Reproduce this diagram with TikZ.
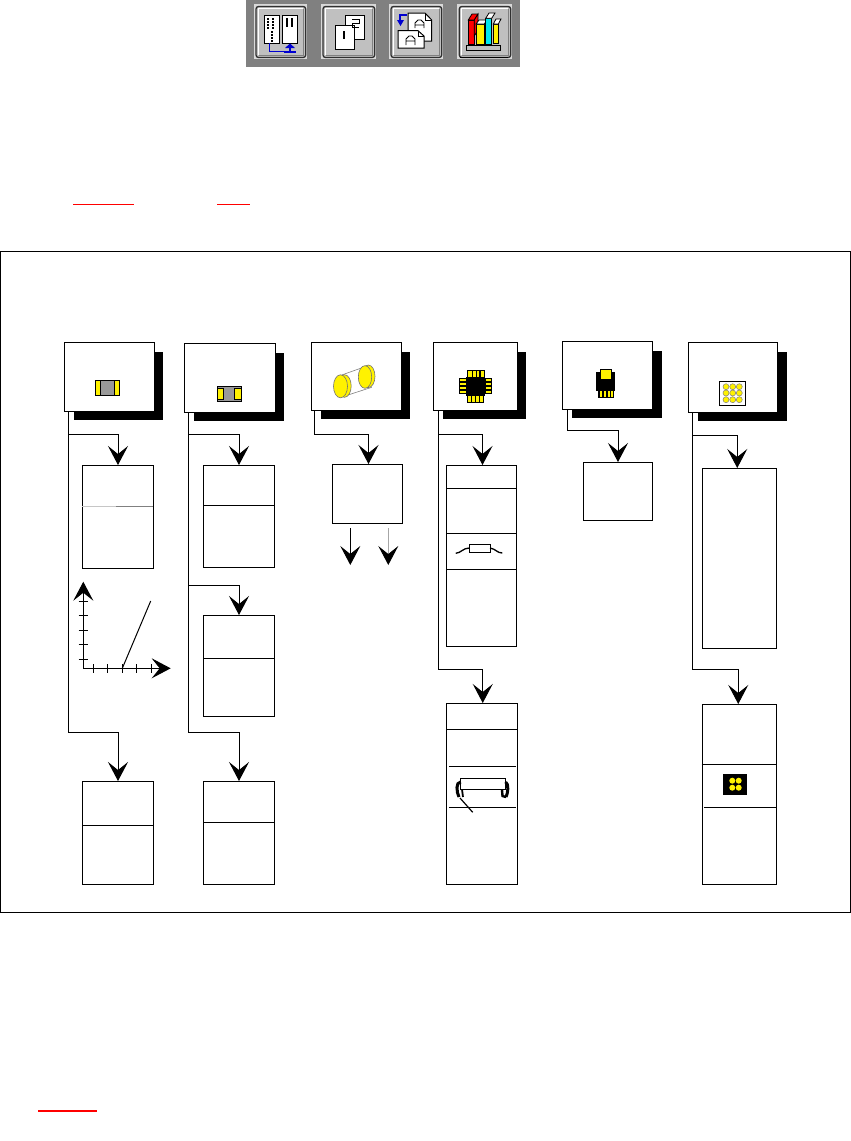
\documentclass[tikz,border=0pt]{standalone}
\usetikzlibrary{arrows.meta,shadows}
\definecolor{barGray}{HTML}{808080}
\definecolor{faceGray}{HTML}{C0C0C0}
\definecolor{darkEdge}{HTML}{303030}
\definecolor{iconBlue}{HTML}{0000D0}
\definecolor{iconCyan}{HTML}{00E8F0}
\definecolor{bodyGray}{HTML}{999999}
\tikzset{
  card/.style={draw,thick,fill=white,anchor=north west,inner sep=0pt,line width=1pt,
    general shadow={fill=black,shadow xshift=9pt,shadow yshift=-9pt}},
  txtbox/.style={draw,fill=white,anchor=north west,inner sep=0pt,line width=1pt},
  flow/.style={line width=1pt,-{Stealth[length=19pt,width=20pt,inset=8pt,black]}},
  divider/.style={line width=1pt},
  redline/.style={red,line width=1.2pt},
  pin/.style={fill=yellow,draw=black,line width=0.8pt},
  page/.style={fill=white,draw=black,line width=1pt},
}
\newcommand{\toolbtn}[4]{%
  \fill[faceGray!60!white] (#1,#2) rectangle (#3,#4);
  \draw[fill=faceGray,draw=darkEdge,line width=1.3pt,rounded corners=2.5pt] (#1+2,#2+2.5) rectangle (#3-1,#4-1.5);
  \draw[white,line width=1pt] (#1+4,#4-4) -- (#1+4,#2+4.5) -- (#3-3.5,#2+4.5);
  \draw[gray,line width=1.5pt] (#1+4.5,#4-3.5) -- (#3-3,#4-3.5) -- (#3-3,#2+5);
}
\begin{document}
\begin{tikzpicture}[x=1pt,y=-1pt]
\useasboundingbox (0,0) rectangle (851,1141);
% toolbar
\fill[barGray] (246,0) rectangle (520,67);
\toolbtn{254}{4}{306.7}{59}
\toolbtn{321}{4}{375.7}{59}
\toolbtn{389}{4}{442.7}{59}
\toolbtn{457.3}{4}{511.7}{59}
% button 1
\draw[page] (264,15) rectangle (279.3,43.3);
\draw[page] (282.7,15) rectangle (297.3,43.3);
\draw[line width=1.6pt,dash pattern=on 2pt off 1pt] (268,18) -- (268,29);
\draw[line width=1.6pt,dash pattern=on 2pt off 1pt] (273,18) -- (273,29);
\draw[line width=1.2pt,dash pattern=on 1.5pt off 1.5pt] (272,31) -- (272,42);
\draw[line width=1.4pt] (287,18) -- (287,27);
\draw[line width=1.4pt] (292,18) -- (292,27);
\draw[iconBlue,line width=1.2pt] (269.3,43.3) -- (269.3,51.7) -- (290,51.7) -- (290,47);
\fill[iconBlue] (285,48) -- (295,48) -- (290,43.5) -- cycle;
\fill[iconBlue] (284,50.5) rectangle (296,52.5);
% button 2
\draw[page] (345,15) rectangle (364,39);
\draw[page] (335.7,25) rectangle (354.3,49);
\draw[line width=1.2pt] (344,31) -- (344,39);
\draw[line width=1pt] (352,19) -- (359,19) -- (359,23) -- (352,23) -- (352,27) -- (359,27);
% button 3
\draw[page] (408,13) -- (425,13) -- (431.7,20) -- (431.7,41) -- (408,41) -- cycle;
\draw[line width=0.8pt] (425,13) -- (425,20) -- (431.7,20);
\draw[line width=0.9pt] (415,28) -- (415,23) -- (418,20) -- (421,20) -- (424,23) -- (424,28) (415,25) -- (424,25);
\draw[page] (398,30.7) -- (418,30.7) -- (424,36) -- (424,48) -- (398,48) -- cycle;
\draw[line width=0.8pt] (418,30.7) -- (418,36) -- (424,36);
\draw[line width=0.9pt] (406,45) -- (406,39) -- (409,36) -- (412,36) -- (415,39) -- (415,45) (406,41) -- (415,41);
\draw[iconBlue,line width=1.8pt] (407,15) -- (400,15) -- (400,20);
\fill[iconBlue] (397,20) -- (404,20) -- (400.5,26) -- cycle;
% button 4
\draw[fill=red,line width=0.8pt] (468.3,20) rectangle (474.3,44);
\draw[fill=red,line width=0.8pt] (468.3,20) -- (472,14) -- (478,14) -- (474.3,20) -- cycle;
\draw[fill=red,line width=0.8pt] (474.3,20) -- (478,14) -- (478,30) -- (474.3,36) -- cycle;
\draw[fill=yellow,line width=0.8pt] (476,24) rectangle (484.3,44);
\draw[fill=white,line width=0.8pt] (476,24) -- (479,20) -- (487,20) -- (484.3,24) -- cycle;
\draw[fill=iconCyan,line width=0.8pt] (485.7,18.3) rectangle (491.7,44);
\draw[fill=white,line width=0.8pt] (485.7,18.3) -- (489,13) -- (495,13) -- (491.7,18.3) -- cycle;
\draw[fill=yellow,line width=0.8pt] (493.3,24) rectangle (498.3,43);
\draw[fill=white,line width=0.8pt] (493.3,24) -- (496,19) -- (501,19) -- (498.3,24) -- cycle;
\draw[fill=faceGray,line width=0.8pt] (466,45) rectangle (500,50);
\fill[black] (460,56.5) rectangle (508,58);
% red underlines
\draw[redline] (73,204.3) -- (134,204.3);
\draw[redline] (217,204.3) -- (250,204.3);
\draw[redline] (38,1111) -- (97,1111);
% frame
\draw[line width=1pt] (0.5,251.5) rectangle (850,912);
% top cards
\node[card,minimum width=89.5pt,minimum height=68.5pt] (card1) at (64,342) {};
\node[card,minimum width=90.5pt,minimum height=68.5pt] (card2) at (184,343) {};
\node[card,minimum width=89.5pt,minimum height=67.5pt] (card3) at (311,342) {};
\node[card,minimum width=83.5pt,minimum height=67.5pt] (card4) at (433,342) {};
\node[card,minimum width=90pt,minimum height=67.5pt] (card5) at (562,341) {};
\node[card,minimum width=89pt,minimum height=69.5pt] (card6) at (688,342) {};
% text boxes
\node[txtbox,minimum width=71pt,minimum height=103pt] (txt1) at (82,465) {};
\node[txtbox,minimum width=71pt,minimum height=102pt] (txt2) at (203,465) {};
\node[txtbox,minimum width=71pt,minimum height=101pt] (txt3) at (203,615) {};
\node[txtbox,minimum width=71pt,minimum height=103pt] (txt4) at (203,781) {};
\node[txtbox,minimum width=71pt,minimum height=103pt] (txt5) at (82,781) {};
\node[txtbox,minimum width=70pt,minimum height=59pt] (txt6) at (332,464) {};
\node[txtbox,minimum width=70pt,minimum height=181pt] (txt7) at (446,465) {};
\node[txtbox,minimum width=70.5pt,minimum height=181pt] (txt8) at (446,703) {};
\node[txtbox,minimum width=69pt,minimum height=58pt] (txt9) at (583,462) {};
\node[txtbox,minimum width=74.5pt,minimum height=180pt] (txt10) at (701.5,468) {};
\node[txtbox,minimum width=74.5pt,minimum height=180pt] (txt11) at (701.5,704) {};
% dividers
\draw[divider,gray!45] (82,506) -- (116,506);
\draw[divider,gray] (116,506) -- (153,506);
\draw[divider] (203,505) -- (274,505);
\draw[divider] (203,658) -- (274,658);
\draw[divider] (203,822) -- (274,822);
\draw[divider] (82,825) -- (153,825);
\draw[divider] (446,488) -- (516,488);
\draw[divider] (446,533) -- (516,533);
\draw[divider] (446,569) -- (516,569);
\draw[divider] (446,729) -- (517,729);
\draw[divider] (449,766) -- (516,766);
\draw[divider] (449,807) -- (516,807);
\draw[divider] (701.5,764) -- (776,764);
\draw[divider] (704,807) -- (776,807);
% connectors
\draw[flow] ([xshift=4pt]card1.south west) |- ([yshift=31pt]txt1.north) -- (txt1.north);
\draw[flow] ([xshift=4pt]card1.south west) |- ([yshift=49pt]txt5.north) -- (txt5.north);
\draw[flow] ([xshift=4pt]card2.south west) |- ([yshift=31pt]txt2.north) -- (txt2.north);
\draw[flow] ([xshift=4pt]card2.south west) |- ([yshift=30pt]txt3.north) -- (txt3.north);
\draw[flow] ([xshift=4pt]card2.south west) |- ([yshift=49pt]txt4.north) -- (txt4.north);
\draw[flow] ([xshift=3pt]card3.south west) |- ([xshift=1pt,yshift=30pt]txt6.north) -- ([xshift=1pt]txt6.north);
\draw[flow] ([xshift=5pt]card4.south west) |- ([xshift=1pt,yshift=31pt]txt7.north) -- ([xshift=1pt]txt7.north);
\draw[flow] ([xshift=5pt]card4.south west) |- ([xshift=1pt,yshift=34pt]txt8.north) -- ([xshift=1pt]txt8.north);
\draw[flow] ([xshift=5pt]card5.south west) |- ([yshift=32pt]txt9.north) -- (txt9.north);
\draw[flow] ([xshift=4.5pt]card6.south west) |- ([xshift=-2pt,yshift=33pt]txt10.north) -- ([xshift=-2pt]txt10.north);
\draw[flow] ([xshift=4.5pt]card6.south west) |- ([xshift=-1pt,yshift=35pt]txt11.north) -- ([xshift=-1pt]txt11.north);
% free arrows under box 6
\coordinate (tipA) at (350.3,565);
\coordinate (tipB) at (388.3,565);
\draw[flow] ([xshift=18.3pt,yshift=-4pt]txt6.south west) -- (tipA);
\draw[flow,draw=gray!70] ([xshift=56.3pt,yshift=-4pt]txt6.south west) -- (tipB);
% chart
\coordinate (origin) at (83.3,668.3);
\coordinate (yEnd) at (83.3,581.7);
\coordinate (xEnd) at (170.7,668.3);
\draw[flow] (origin) -- (yEnd);
\draw[flow] (origin) -- (xEnd);
\foreach \ty in {601,615,630.3,644,659.3}
  \draw[line width=1pt] (78.5,\ty) -- (88,\ty);
\foreach \tx in {93.3,107.3,122.3,136.3,151.3}
  \draw[line width=1pt] (\tx,664) -- (\tx,673);
\draw[line width=1pt] (122.3,668.3) -- (150.7,601);
% icon card 1
\draw[fill=bodyGray,line width=1pt] (95.3,380.3) rectangle (119.7,395.7);
\draw[fill=yellow,line width=1pt] (95.3,380.3) rectangle (100.7,395.7);
\draw[fill=yellow,line width=1pt] (114.3,380.3) rectangle (119.7,395.7);
% icon card 2
\draw[fill=bodyGray,line width=1pt] (217.3,386) rectangle (241.7,401.7);
\draw[fill=yellow,line width=0.8pt] (217.8,388.3) rectangle (223.7,399.3);
\draw[fill=yellow,line width=0.8pt] (234.3,388.3) rectangle (241.2,399.3);
% icon card 3
\draw[gray,line width=0.6pt] (341.7,375) -- (365,366.7);
\draw[gray,line width=0.6pt] (348,395) -- (371.7,387.3);
\draw[fill=yellow,draw=gray!90!black,line width=0.6pt] (368.3,376.3) ellipse [x radius=6.7pt,y radius=11.3pt];
\draw[fill=yellow,draw=gray!90!black,line width=0.6pt] (365,377) ellipse [x radius=6.7pt,y radius=11.3pt];
\draw[fill=yellow,draw=gray!90!black,line width=0.6pt] (344.5,386) ellipse [x radius=6.7pt,y radius=11.3pt];
\draw[fill=yellow,draw=gray!90!black,line width=0.6pt] (340.5,386.3) ellipse [x radius=7pt,y radius=11.5pt];
% icon card 4
\draw[pin] (467.6,370.5) rectangle (472,377.5);
\draw[pin] (472,370.5) rectangle (476,377.5);
\draw[pin] (476,370.5) rectangle (479,377.5);
\draw[pin] (480.5,370.5) rectangle (484,377.5);
\draw[pin] (467.6,395.5) rectangle (471.5,402.5);
\draw[pin] (471.5,395.5) rectangle (475.5,402.5);
\draw[pin] (475.5,395.5) rectangle (479.7,402.5);
\draw[pin] (479.7,395.5) rectangle (483.7,402.5);
\foreach \py in {378.5,382.5,386.5,390.5} {
  \draw[pin] (459.3,\py) rectangle (466,\py+3);
  \draw[pin] (485,\py) rectangle (491.7,\py+3);
}
\fill[black] (466,377.3) rectangle (485,395.7);
% icon card 5
\fill[black] (596,372) rectangle (615,390.7);
\draw[pin] (600.7,369.7) rectangle (611.5,379.3);
\fill[black] (598.3,390) rectangle (614,397.7);
\foreach \px in {599.7,603.7,607.7,611.2}
  \fill[yellow] (\px,391) rectangle (\px+1.8,396.9);
% icon card 6
\draw[fill=white,line width=1pt] (719.3,381.3) rectangle (745.7,405.7);
\foreach \dx in {726,732.7,739.3}
  \foreach \dy in {386.7,393,399.7}
    \draw[fill=yellow,draw=gray,line width=0.5pt] (\dx,\dy) circle[radius=3pt];
% resistor in box 7
\draw[line width=1pt] (469.3,544) rectangle (490,552.7);
\draw[line width=1.3pt] (455.7,553.3) .. controls (461,553) and (463,548) .. (469.3,548);
\draw[line width=1.3pt] (490,548) .. controls (496,549) and (497,553) .. (502.3,553);
% part in box 8
\draw[line width=1pt] (460.7,778.3) rectangle (505.7,789.3);
\draw[line width=3pt] (460.7,782) .. controls (455.5,782) and (456.5,792) .. (459,797);
\draw[line width=1.8pt] (462,789.3) -- (463,797);
\draw[line width=1.2pt] (460,798) -- (472.7,812.3);
\draw[line width=3pt] (505.7,782) .. controls (509,784) and (508,793) .. (506,797);
\draw[line width=2.4pt] (502,790) -- (502.5,796) -- (506,797);
% part in box 11
\fill[black] (723,774) rectangle (747,794.7);
\fill[yellow] (732.3,780.7) circle[radius=3pt];
\fill[yellow] (738.7,780.7) circle[radius=3pt];
\fill[yellow] (732.3,787.7) circle[radius=3pt];
\fill[yellow] (738.7,787.7) circle[radius=3pt];
\end{tikzpicture}
\end{document}
